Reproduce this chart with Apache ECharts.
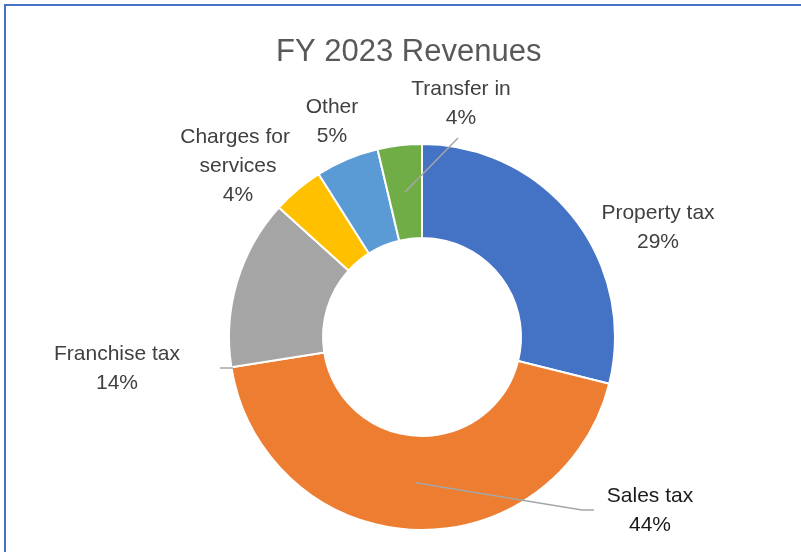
<!DOCTYPE html>
<html><head><meta charset="utf-8">
<script src="https://cdn.jsdelivr.net/npm/echarts@6/dist/echarts.min.js"></script>
<style>html,body{margin:0;padding:0;background:#fff}#c{width:801px;height:552px}</style>
</head><body><div id="c"></div>
<script>
// ---- data ----
const categories = ['Property tax', 'Sales tax', 'Franchise tax', 'Charges for services', 'Other', 'Transfer in'];
const revenueShare = [28.9, 43.6, 14.2, 4.3, 5.3, 3.7];
const sliceColors = ['#4472C4', '#ED7D31', '#A5A5A5', '#FFC000', '#5B9BD5', '#70AD47'];

// ---- layout (label placement, leader lines) ----
const CX = 422, CY = 337, R_OUT = 193, R_IN = 99;
const labelPlace = [
  { x: 658, y: 228 },
  { x: 650, y: 511, end: [[582, 510], [594, 510]], fromMid: true },
  { x: 117, y: 369, end: [[226, 368], [220, 368]], start: [233, 368] },
  { x: 238, y: 166 },
  { x: 332, y: 122 },
  { x: 461, y: 104, end: [[458, 138]], fromMid: true }
];

// leader lines, starting at the middle of the ring at each slice's mid angle
const total = revenueShare.reduce((a, b) => a + b, 0);
const leaderLines = [];
let cum = 0;
revenueShare.forEach((v, i) => {
  const p = labelPlace[i];
  const theta = 2 * Math.PI * (cum + v / 2) / total;
  cum += v;
  if (!p.end) return;
  let start = p.start;
  if (p.fromMid) {
    const r = (R_IN + R_OUT) / 2;
    start = [CX + r * Math.sin(theta), CY - r * Math.cos(theta)];
  }
  leaderLines.push({
    type: 'polyline', silent: true, z: 100,
    shape: { points: [start].concat(p.end) },
    style: { fill: 'none', stroke: '#A6A6A6', lineWidth: 1.5 }
  });
});

const chart = echarts.init(document.getElementById('c'), null, { renderer: 'canvas' });
const option = {
  animation: false,
  backgroundColor: '#ffffff',
  title: {
    text: 'FY 2023 Revenues',
    left: 271, top: 32,
    textStyle: { fontFamily: 'Liberation Sans', fontSize: 31, fontWeight: 'normal', color: '#595959' }
  },
  graphic: [{
    type: 'rect', silent: true,
    shape: { x: 5, y: 5, width: 1000, height: 1000 },
    style: { fill: 'none', stroke: '#4472C4', lineWidth: 2 }
  }].concat(leaderLines),
  series: [{
    type: 'pie',
    center: [CX, CY],
    radius: [R_IN, R_OUT],
    startAngle: 90,
    clockwise: true,
    percentPrecision: 0,
    avoidLabelOverlap: false,
    itemStyle: { borderColor: '#ffffff', borderWidth: 2 },
    emphasis: { disabled: true },
    label: {
      show: true, position: 'outside',
      formatter: '{b}\n{d}%',
      fontFamily: 'Liberation Sans', fontSize: 21, color: '#404040',
      lineHeight: 29, width: 135, overflow: 'break', align: 'center'
    },
    labelLine: { show: false },
    data: categories.map((name, i) => ({
      name: name,
      value: revenueShare[i],
      itemStyle: { color: sliceColors[i] },
      label: i === 1 ? { color: '#1a1a1a' } : {}
    })),
    labelLayout: function (params) {
      const p = labelPlace[params.dataIndex];
      return { x: p.x, y: p.y, align: 'center', verticalAlign: 'middle' };
    }
  }]
};
chart.setOption(option);
</script>
</body></html>
